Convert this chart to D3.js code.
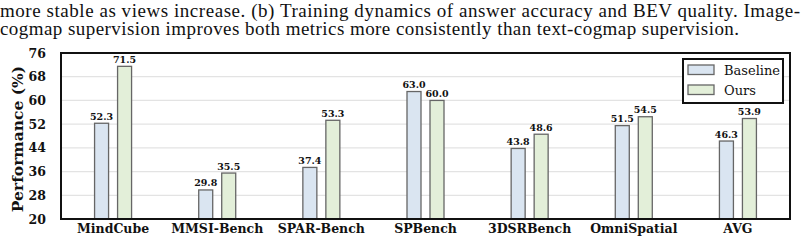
<!DOCTYPE html>
<html>
<head>
<meta charset="utf-8">
<script src="https://cdn.jsdelivr.net/npm/d3@7"></script>
<style>
  body { margin: 0; background: #fff; }
  svg { display: block; }
</style>
</head>
<body>
<div id="chart"></div>
<script>
// data
const categories = ["MindCube", "MMSI-Bench", "SPAR-Bench", "SPBench", "3DSRBench", "OmniSpatial", "AVG"];
const baseline = [52.3, 29.8, 37.4, 63.0, 43.8, 51.5, 46.3];
const ours = [71.5, 35.5, 53.3, 60.0, 48.6, 54.5, 53.9];
const yTicks = [20, 28, 36, 44, 52, 60, 68, 76];
const captionLines = [
    "more stable as views increase. (b) Training dynamics of answer accuracy and BEV quality. Image-",
    "cogmap supervision improves both metrics more consistently than text-cogmap supervision."
];

const width = 807, height = 243;
const margin = { top: 53, right: 17, bottom: 24, left: 61 };

const svg = d3.select("#chart").append("svg")
    .attr("width", width)
    .attr("height", height);

// caption from the paper above the figure
const captionWidths = [800, 739];
svg.selectAll("text.caption")
    .data(captionLines)
    .join("text")
    .attr("class", "caption")
    .attr("x", 0)
    .attr("y", (d, i) => 17.3 + i * 17.7)
    .attr("font-family", "Liberation Serif, Times New Roman, serif")
    .attr("font-size", 19)
    .attr("fill", "#111")
    .attr("textLength", (d, i) => captionWidths[i])
    .attr("lengthAdjust", "spacing")
    .text(d => d);

const xScale = d3.scaleBand()
    .domain(categories)
    .range([margin.left, width - margin.right]);

const yScale = d3.scaleLinear()
    .domain([20, 76])
    .range([height - margin.bottom, margin.top]);

const barW = 14, offset = 11.5;
const serif = "DejaVu Serif, serif";

// gridlines
svg.append("g")
    .selectAll("line")
    .data(yTicks.slice(1, -1))
    .join("line")
    .attr("x1", margin.left)
    .attr("x2", width - margin.right)
    .attr("y1", d => yScale(d))
    .attr("y2", d => yScale(d))
    .attr("stroke", "#e3e3e3")
    .attr("stroke-width", 1.2);

// y axis labels
const yAxis = d3.axisLeft(yScale).tickValues(yTicks).tickSize(0).tickPadding(15);
svg.append("g")
    .attr("transform", `translate(${margin.left}, 0)`)
    .call(yAxis)
    .call(g => g.select(".domain").remove())
    .selectAll("text")
    .attr("font-family", serif)
    .attr("font-weight", "bold")
    .attr("font-size", 12.5)
    .attr("fill", "#111");

// x axis labels
const xAxis = d3.axisBottom(xScale).tickSize(0).tickPadding(5);
svg.append("g")
    .attr("transform", `translate(0, ${height - margin.bottom})`)
    .call(xAxis)
    .call(g => g.select(".domain").remove())
    .selectAll("text")
    .attr("font-family", serif)
    .attr("font-weight", "bold")
    .attr("font-size", 12.5)
    .attr("fill", "#111");

const cx = d => xScale(d) + xScale.bandwidth() / 2;

const series = [
    { name: "Baseline", values: baseline, fill: "#dae5f1", dx: -offset },
    { name: "Ours", values: ours, fill: "#e3efd9", dx: offset }
];

series.forEach(s => {
    svg.append("g")
        .selectAll("rect")
        .data(categories)
        .join("rect")
        .attr("x", (d, i) => cx(d) + s.dx - barW / 2)
        .attr("y", (d, i) => yScale(s.values[i]))
        .attr("width", barW)
        .attr("height", (d, i) => yScale(20) - yScale(s.values[i]))
        .attr("fill", s.fill)
        .attr("stroke", "#666")
        .attr("stroke-width", 1.3);

    svg.append("g")
        .selectAll("text")
        .data(categories)
        .join("text")
        .attr("x", (d, i) => cx(d) + s.dx)
        .attr("y", (d, i) => yScale(s.values[i]) - 3.5)
        .attr("text-anchor", "middle")
        .attr("font-family", serif)
        .attr("font-weight", "bold")
        .attr("font-size", 9.5)
        .attr("fill", "#111")
        .text((d, i) => s.values[i].toFixed(1));
});

// frame
svg.append("rect")
    .attr("x", margin.left)
    .attr("y", margin.top)
    .attr("width", width - margin.left - margin.right)
    .attr("height", height - margin.top - margin.bottom)
    .attr("fill", "none")
    .attr("stroke", "#111")
    .attr("stroke-width", 2);

// y title
svg.append("text")
    .attr("transform", `translate(23, 139)rotate(-90)`)
    .attr("text-anchor", "middle")
    .attr("font-family", serif)
    .attr("font-weight", "bold")
    .attr("font-size", 15.5)
    .attr("fill", "#111")
    .text("Performance (%)");

// legend
const legend = svg.append("g").attr("transform", "translate(683, 59)");
legend.append("rect")
    .attr("width", 100)
    .attr("height", 44)
    .attr("fill", "#fff")
    .attr("stroke", "#111")
    .attr("stroke-width", 2);
legend.selectAll("g.item")
    .data(series)
    .join("g")
    .attr("class", "item")
    .attr("transform", (d, i) => `translate(5, ${6 + i * 20})`)
    .each(function (d) {
        const g = d3.select(this);
        g.append("rect")
            .attr("width", 26)
            .attr("height", 9.5)
            .attr("fill", d.fill)
            .attr("stroke", "#666")
            .attr("stroke-width", 1.3);
        g.append("text")
            .attr("x", 36)
            .attr("y", 9.5)
            .attr("font-family", serif)
            .attr("font-size", 13)
            .attr("fill", "#111")
            .text(d.name);
    });
</script>
</body>
</html>
